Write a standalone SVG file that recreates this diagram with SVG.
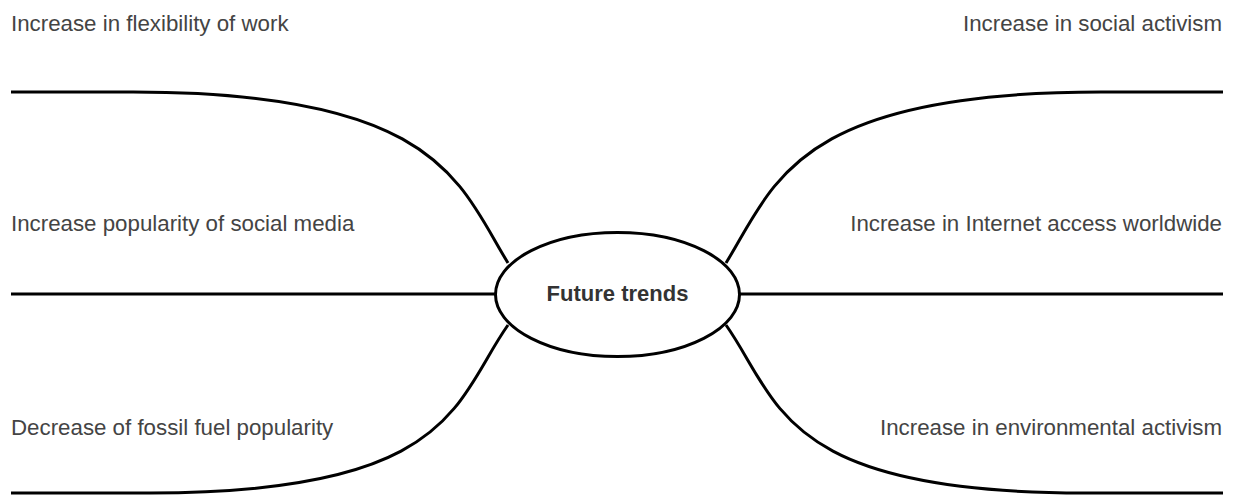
<svg xmlns="http://www.w3.org/2000/svg" width="1233" height="495" viewBox="0 0 1233 495">
<style>
.lbl{font-family:"Liberation Sans",Arial,sans-serif;font-size:22.3px;fill:#444}
.end{text-anchor:end}
.conn{fill:none;stroke:#000;stroke-width:3}
.hub{fill:#fff;stroke:#000;stroke-width:3}
.hubtxt{font-family:"Liberation Sans",Arial,sans-serif;font-size:22px;font-weight:bold;fill:#333;text-anchor:middle}
</style>
<rect width="1233" height="495" fill="#fff"/>
<g id="connectors">
<path class="conn" d="M11,92 H133 C440,92 460,185 508,263"/>
<path class="conn" d="M11,294 H497"/>
<path class="conn" d="M11,493 H150 C455,493 455,400 508,325"/>
<path class="conn" d="M1223,92 H1101 C794,92 774,185 726,263"/>
<path class="conn" d="M1223,294 H738"/>
<path class="conn" d="M1223,493 H1084 C779,493 779,400 726,325"/>
</g>
<g id="node-center">
<ellipse class="hub" cx="617.5" cy="294.5" rx="122" ry="62"/>
<text class="hubtxt" x="617.5" y="300.5">Future trends</text>
</g>
<g id="node-flexibility"><text class="lbl" x="11" y="30.5">Increase in flexibility of work</text></g>
<g id="node-social-media"><text class="lbl" x="11" y="231">Increase popularity of social media</text></g>
<g id="node-fossil"><text class="lbl" x="11" y="434.5">Decrease of fossil fuel popularity</text></g>
<g id="node-social-activism"><text class="lbl end" x="1222" y="30.5">Increase in social activism</text></g>
<g id="node-internet"><text class="lbl end" x="1222" y="231">Increase in Internet access worldwide</text></g>
<g id="node-environment"><text class="lbl end" x="1222" y="434.5">Increase in environmental activism</text></g>
</svg>
